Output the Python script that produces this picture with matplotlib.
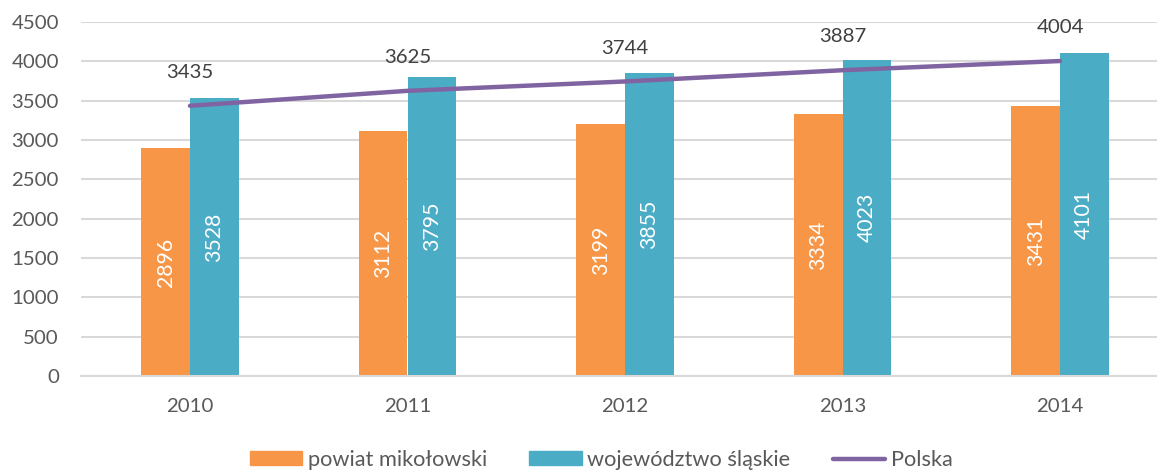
import matplotlib
matplotlib.use("Agg")
import matplotlib.pyplot as plt
import numpy as np
from matplotlib.lines import Line2D
from matplotlib.patches import Patch

years = ["2010", "2011", "2012", "2013", "2014"]
powiat = [2896, 3112, 3199, 3334, 3431]
wojewodztwo = [3528, 3795, 3855, 4023, 4101]
polska = [3435, 3625, 3744, 3887, 4004]

names = ["powiat mikołowski", "województwo śląskie", "Polska"]
c_orange = "#F79646"
c_teal = "#4BACC6"
c_purple = "#8064A2"
c_grid = "#D9D9D9"
c_tick = "#595959"

plt.rcParams["font.family"] = ["Lato", "DejaVu Sans"]

W, H = 1157, 470
fig = plt.figure(figsize=(W / 100, H / 100), dpi=100)
ax = fig.add_axes([81 / W, (H - 376) / H, (W - 81) / W, 354 / H])

x = np.arange(len(years))
bw = 0.223
b1 = ax.bar(x - bw / 2, powiat, bw, color=c_orange, zorder=2)
b2 = ax.bar(x + bw / 2, wojewodztwo, bw, color=c_teal, zorder=2)

for bars, vals in ((b1, powiat), (b2, wojewodztwo)):
    for r, v in zip(bars, vals):
        ax.text(r.get_x() + r.get_width() / 2, v / 2, f"{v}", rotation=90,
                ha="center", va="center", color="white", fontsize=15.3, zorder=4)

ax.plot(x, polska, color=c_purple, lw=3.2, solid_capstyle="round", zorder=3)
for xi, v in zip(x, polska):
    ax.annotate(f"{v}", (xi, v), xytext=(0, 24), textcoords="offset points",
                ha="center", va="center", fontsize=14.7, color="#404040", zorder=4)

ax.set_ylim(0, 4500)
ax.set_yticks(np.arange(0, 4501, 500))
ax.set_xlim((81 - 190) / 217.5, (W - 190) / 217.5)
ax.set_xticks(x)
ax.set_xticklabels(years)
ax.yaxis.grid(True, color=c_grid, lw=1.5, zorder=0)
ax.set_axisbelow(True)
for s in ("top", "right", "left"):
    ax.spines[s].set_visible(False)
ax.spines["bottom"].set_color(c_grid)
ax.spines["bottom"].set_linewidth(1.5)
ax.tick_params(axis="both", length=0, labelsize=14.7, labelcolor=c_tick)
ax.tick_params(axis="x", pad=16)
ax.tick_params(axis="y", pad=16)

handles = [Patch(color=c_orange), Patch(color=c_teal),
           Line2D([0], [0], color=c_purple, lw=3.2, solid_capstyle="round")]
fig.legend(handles, names, loc="center", bbox_to_anchor=(601 / W, (H - 460) / H),
           ncol=3, frameon=False, fontsize=15.7, labelcolor=c_tick,
           handlelength=2.4, handleheight=0.6, handletextpad=0.25, columnspacing=1.95)

fig.savefig("out.png", dpi=100, facecolor="white")
